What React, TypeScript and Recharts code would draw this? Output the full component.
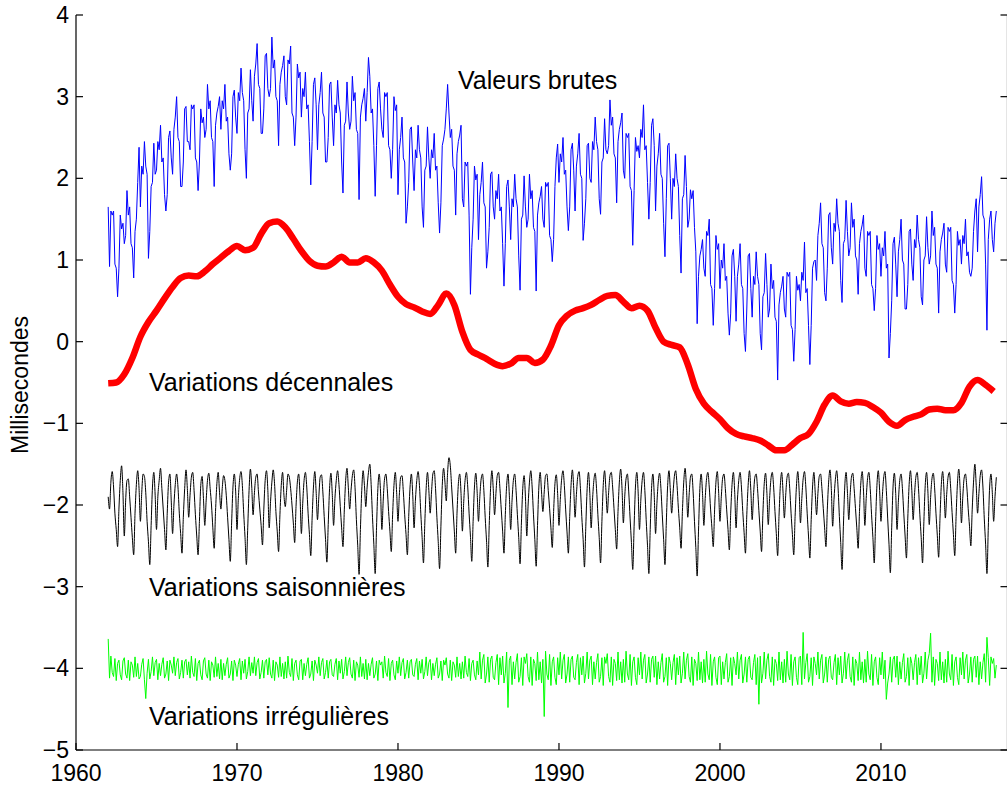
import React from "react";
import { LineChart, Line, XAxis, YAxis } from "recharts";

// time grid: monthly series start in Jan 1962, decadal curve every half year
const START_YEAR = 1962;
const MONTH_STEP = 1 / 12;
const HALF_YEAR_STEP = 0.5;

const xTicks = [1960, 1970, 1980, 1990, 2000, 2010];
const yTicks = [-5, -4, -3, -2, -1, 0, 1, 2, 3, 4];

// Valeurs brutes (monthly, ms)
const rawValues = [
  1.65, 0.92, 1.6, 1.55, 1.6, 0.95, 0.9, 0.55, 0.9, 1.55, 1.38, 1.45,
  1.2, 1.3, 1.85, 1.55, 1.65, 1.2, 1.15, 0.78, 1.35, 1.5, 1.95, 2.38,
  1.65, 2.15, 2.05, 2.45, 2.15, 2.05, 1.02, 1.35, 1.9, 1.95, 2.43, 2.05,
  2.1, 2.45, 2.35, 2.65, 2.2, 2.25, 1.8, 1.6, 1.8, 2.5, 2.58, 2.25,
  2.05, 2.6, 2.75, 3.0, 2.5, 2.45, 1.9, 1.9, 2.2, 2.85, 2.88, 2.45,
  2.45, 2.35, 2.9, 2.85, 2.9, 2.25, 2.2, 1.85, 2.2, 2.85, 2.68, 2.75,
  2.5, 2.6, 3.15, 2.85, 2.95, 2.5, 2.45, 1.9, 2.65, 2.8, 2.88, 3.0,
  2.6, 2.95, 2.85, 3.15, 2.7, 2.75, 2.3, 2.1, 2.3, 3.0, 3.08, 2.75,
  2.55, 3.05, 2.95, 3.35, 3.05, 2.95, 2.35, 2.0, 2.8, 2.85, 3.33, 2.95,
  2.7, 3.25, 3.4, 3.65, 3.15, 3.1, 2.55, 2.55, 2.85, 3.5, 3.53, 3.1,
  3.0, 3.1, 3.73, 3.35, 3.45, 3.0, 2.95, 2.4, 3.15, 3.3, 3.38, 3.5,
  3.0, 2.9, 3.45, 3.4, 3.62, 2.8, 2.75, 2.4, 2.75, 3.4, 3.23, 3.3,
  2.75, 3.1, 3.0, 3.3, 2.85, 2.9, 2.45, 1.92, 2.45, 3.15, 3.23, 2.9,
  2.35, 2.9, 3.05, 3.3, 2.8, 2.75, 2.2, 2.2, 2.5, 3.15, 3.18, 2.75,
  2.4, 2.9, 2.8, 3.2, 2.9, 2.8, 2.2, 1.82, 2.65, 2.7, 3.18, 2.8,
  2.6, 2.7, 3.25, 2.95, 3.05, 2.6, 2.55, 1.74, 2.75, 2.9, 2.98, 3.1,
  2.7, 3.05, 3.48, 3.25, 2.8, 2.85, 2.4, 1.78, 2.4, 3.1, 3.18, 2.85,
  2.6, 2.5, 3.05, 3.0, 3.05, 2.4, 2.35, 2.0, 2.35, 3.0, 2.83, 2.9,
  1.8, 2.35, 2.5, 2.75, 2.25, 2.2, 1.45, 1.65, 1.95, 2.6, 2.63, 2.2,
  1.85, 2.35, 2.25, 2.65, 2.35, 2.25, 1.65, 1.4, 2.1, 2.15, 2.63, 2.25,
  2.0, 2.35, 2.25, 2.55, 2.1, 2.15, 1.7, 1.33, 1.7, 2.4, 2.48, 2.6,
  2.85, 3.15, 2.8, 2.5, 2.6, 2.15, 2.1, 1.55, 2.3, 2.45, 2.53, 2.65,
  1.75, 1.65, 2.2, 2.15, 2.2, 1.55, 0.58, 1.15, 1.5, 2.15, 1.98, 2.05,
  1.25, 1.8, 1.95, 2.2, 1.7, 1.65, 0.9, 1.1, 1.4, 2.05, 2.08, 1.65,
  1.5, 1.85, 1.75, 2.05, 1.6, 1.65, 1.2, 0.68, 1.2, 1.9, 1.98, 1.65,
  1.25, 1.75, 1.65, 2.05, 1.75, 1.65, 1.05, 0.63, 1.5, 1.55, 2.03, 1.65,
  1.4, 1.5, 2.05, 1.75, 1.85, 1.4, 1.35, 0.62, 1.55, 1.7, 1.78, 1.9,
  1.5, 1.4, 1.95, 1.9, 1.95, 1.3, 1.25, 0.98, 1.25, 1.9, 2.25, 2.42,
  1.95, 2.3, 2.2, 2.5, 2.05, 2.1, 1.65, 1.36, 1.65, 2.35, 2.43, 2.1,
  1.6, 2.15, 2.3, 2.55, 2.05, 2.0, 1.24, 1.45, 1.75, 2.4, 2.43, 2.0,
  1.95, 2.45, 2.35, 2.75, 2.45, 2.35, 1.75, 1.56, 2.2, 2.25, 2.73, 2.35,
  2.3, 2.4, 2.96, 2.65, 2.75, 2.3, 2.25, 1.7, 2.45, 2.6, 2.68, 2.8,
  2.1, 2.0, 2.55, 2.5, 2.55, 1.9, 1.85, 1.18, 1.85, 2.5, 2.33, 2.4,
  2.25, 2.6, 2.5, 2.9, 2.35, 2.4, 1.95, 1.5, 1.95, 2.65, 2.73, 2.4,
  1.6, 2.15, 2.3, 2.55, 2.05, 2.0, 1.45, 1.04, 1.75, 2.4, 2.43, 2.0,
  1.5, 2.0, 1.9, 2.3, 2.0, 1.9, 1.3, 0.84, 1.75, 1.8, 2.28, 1.9,
  1.4, 1.5, 1.86, 1.75, 1.85, 1.4, 1.1, 0.22, 0.8, 1.05, 1.13, 1.25,
  0.9, 0.8, 1.35, 1.3, 1.5, 0.7, 0.65, 0.2, 0.65, 1.3, 1.13, 1.2,
  0.65, 1.0, 0.9, 1.2, 0.75, 0.8, 0.35, 0.08, 0.35, 1.05, 1.13, 0.8,
  0.25, 0.8, 0.95, 1.2, 0.7, 0.65, 0.1, -0.12, 0.4, 1.05, 1.08, 0.65,
  0.3, 0.8, 0.7, 1.1, 0.8, 0.7, 0.1, -0.1, 0.55, 0.6, 1.08, 0.7,
  0.3, 0.4, 0.95, 0.65, 0.75, 0.3, 0.25, -0.47, 0.45, 0.6, 0.68, 0.8,
  0.4, 0.3, 0.85, 0.8, 0.85, 0.2, 0.15, -0.24, 0.15, 0.8, 0.63, 0.7,
  0.5, 0.85, 0.75, 1.22, 0.6, 0.65, 0.2, -0.28, 0.2, 0.9, 0.98, 1.0,
  0.75, 1.3, 1.45, 1.7, 1.2, 1.15, 0.6, 0.5, 0.9, 1.55, 1.58, 1.15,
  0.95, 1.45, 1.35, 1.75, 1.45, 1.35, 0.75, 0.48, 1.2, 1.25, 1.73, 1.35,
  1.05, 1.15, 1.7, 1.4, 1.5, 1.05, 1.0, 0.58, 1.2, 1.35, 1.43, 1.55,
  0.9, 0.8, 1.35, 1.3, 1.35, 0.7, 0.65, 0.38, 0.65, 1.3, 1.13, 1.2,
  0.8, 1.15, 1.05, 1.35, 0.9, 0.95, -0.2, 0.1, 0.5, 1.2, 1.28, 0.95,
  0.55, 1.1, 1.25, 1.5, 1.0, 0.95, 0.4, 0.4, 0.7, 1.35, 1.38, 0.95,
  0.75, 1.25, 1.15, 1.55, 1.25, 1.15, 0.55, 0.45, 1.0, 1.05, 1.53, 1.15,
  0.95, 1.05, 1.6, 1.3, 1.4, 0.95, 0.9, 0.35, 1.1, 1.25, 1.33, 1.45,
  0.95, 0.85, 1.4, 1.35, 1.4, 0.75, 0.7, 0.35, 0.7, 1.35, 1.18, 1.25,
  0.95, 1.3, 1.2, 1.5, 1.05, 1.1, 0.85, 0.8, 0.9, 1.35, 1.6, 1.75,
  1.1, 1.65, 1.8, 2.02, 1.55, 1.5, 0.95, 0.14, 1.25, 1.5, 1.6, 1.25,
  1.1, 1.45, 1.6,
];

// Variations décennales (every half year, ms)
const decadalValues = [
  -0.51, -0.5, -0.4, -0.2, 0.06, 0.24, 0.38, 0.53, 0.67, 0.78,
  0.81, 0.8, 0.86, 0.95, 1.03, 1.11, 1.17, 1.12, 1.15, 1.32,
  1.45, 1.47, 1.4, 1.26, 1.11, 0.99, 0.93, 0.92, 0.97, 1.04,
  0.97, 0.97, 1.02, 0.97, 0.87, 0.7, 0.55, 0.46, 0.42, 0.37,
  0.34, 0.45, 0.59, 0.45, 0.12, -0.1, -0.16, -0.21, -0.27, -0.3,
  -0.27, -0.2, -0.2, -0.26, -0.22, -0.05, 0.2, 0.32, 0.38, 0.41,
  0.45, 0.51, 0.56, 0.57, 0.49, 0.41, 0.44, 0.38, 0.17, 0.0,
  -0.04, -0.07, -0.28, -0.58, -0.76, -0.86, -0.95, -1.06, -1.13, -1.16,
  -1.18, -1.21, -1.27, -1.33, -1.33, -1.26, -1.18, -1.13, -0.98, -0.77,
  -0.66, -0.73, -0.76, -0.74, -0.75, -0.8, -0.87, -0.98, -1.03, -0.96,
  -0.92, -0.89, -0.83, -0.82, -0.84, -0.84, -0.75, -0.55, -0.47, -0.53,
  -0.61,
];

// Variations saisonnières (monthly, shifted to -2 ms)
const seasonalValues = [
  -1.9, -2.05, -1.72, -1.59, -1.78, -2.1, -2.3, -2.51, -2.05, -1.7, -1.52, -1.85,
  -2.38, -1.95, -1.7, -1.68, -1.9, -2.15, -2.4, -2.61, -2.1, -1.75, -1.58, -1.8,
  -2.2, -1.85, -1.62, -1.65, -1.85, -2.2, -2.45, -2.73, -2.25, -1.78, -1.6, -1.88,
  -2.3, -1.9, -1.7, -1.55, -1.8, -2.05, -2.3, -2.55, -2.1, -1.72, -1.62, -1.95,
  -2.35, -2.0, -1.75, -1.62, -1.78, -2.1, -2.35, -2.59, -2.15, -1.8, -1.57, -1.8,
  -2.15, -1.88, -1.66, -1.6, -1.82, -2.12, -2.38, -2.61, -2.2, -1.76, -1.65, -1.92,
  -2.25, -1.95, -1.7, -1.61, -1.8, -2.0, -2.28, -2.53, -2.08, -1.74, -1.6, -1.85,
  -2.05, -1.8, -1.64, -1.7, -1.88, -2.15, -2.42, -2.69, -2.22, -1.78, -1.62, -1.83,
  -2.3, -1.92, -1.68, -1.59, -1.76, -2.1, -2.4, -2.73, -2.28, -1.82, -1.56, -1.78,
  -2.12, -1.85, -1.66, -1.62, -1.84, -2.05, -2.25, -2.49, -2.05, -1.7, -1.58, -1.82,
  -2.28, -1.96, -1.72, -1.57, -1.74, -2.08, -2.32, -2.57, -2.12, -1.76, -1.6, -1.88,
  -2.02, -1.82, -1.62, -1.66, -1.8, -2.0, -2.22, -2.46, -2.02, -1.72, -1.62, -1.9,
  -2.35, -1.98, -1.7, -1.6, -1.78, -2.1, -2.36, -2.62, -2.16, -1.78, -1.59, -1.84,
  -2.18, -1.9, -1.66, -1.63, -1.84, -2.14, -2.42, -2.7, -2.24, -1.8, -1.61, -1.86,
  -2.25, -1.92, -1.7, -1.58, -1.75, -2.02, -2.28, -2.51, -2.06, -1.7, -1.55, -1.79,
  -2.05, -1.82, -1.64, -1.57, -1.79, -2.18, -2.5, -2.85, -2.3, -1.82, -1.58, -1.76,
  -2.02, -1.78, -1.6, -1.5, -1.75, -2.15, -2.48, -2.84, -2.28, -1.8, -1.62, -1.84,
  -2.3, -1.94, -1.68, -1.62, -1.8, -2.08, -2.32, -2.57, -2.12, -1.76, -1.6, -1.85,
  -2.2, -1.88, -1.66, -1.64, -1.84, -2.12, -2.36, -2.61, -2.14, -1.78, -1.62, -1.88,
  -2.28, -1.94, -1.7, -1.59, -1.76, -2.1, -2.4, -2.71, -2.22, -1.8, -1.6, -1.82,
  -2.1, -1.84, -1.62, -1.58, -1.8, -2.15, -2.45, -2.78, -2.26, -1.76, -1.55, -1.72,
  -1.95, -1.6, -1.42, -1.52, -1.78, -2.05, -2.32, -2.59, -2.1, -1.74, -1.62, -1.86,
  -2.32, -1.96, -1.7, -1.6, -1.78, -2.1, -2.38, -2.69, -2.2, -1.78, -1.61, -1.84,
  -2.2, -1.9, -1.68, -1.62, -1.82, -2.15, -2.44, -2.76, -2.25, -1.8, -1.58, -1.8,
  -2.12, -1.86, -1.64, -1.6, -1.8, -2.06, -2.32, -2.59, -2.12, -1.76, -1.62, -1.88,
  -2.3, -1.95, -1.7, -1.62, -1.82, -2.12, -2.4, -2.72, -2.22, -1.8, -1.64, -1.9,
  -2.38, -2.0, -1.72, -1.58, -1.78, -2.12, -2.42, -2.75, -2.25, -1.78, -1.6, -1.84,
  -2.08, -1.84, -1.64, -1.62, -1.82, -2.04, -2.28, -2.52, -2.08, -1.74, -1.63, -1.86,
  -2.25, -1.93, -1.68, -1.58, -1.76, -2.06, -2.33, -2.59, -2.14, -1.76, -1.57, -1.8,
  -2.15, -1.87, -1.65, -1.59, -1.8, -2.14, -2.42, -2.76, -2.26, -1.8, -1.6, -1.86,
  -2.28, -1.94, -1.7, -1.61, -1.8, -2.12, -2.4, -2.71, -2.2, -1.76, -1.58, -1.82,
  -2.1, -1.85, -1.64, -1.6, -1.78, -2.04, -2.3, -2.54, -2.08, -1.72, -1.56, -1.8,
  -2.22, -1.9, -1.68, -1.62, -1.84, -2.16, -2.46, -2.79, -2.26, -1.78, -1.6, -1.84,
  -2.3, -1.94, -1.7, -1.6, -1.82, -2.18, -2.5, -2.84, -2.3, -1.8, -1.62, -1.88,
  -2.35, -1.98, -1.72, -1.61, -1.8, -2.12, -2.42, -2.73, -2.22, -1.76, -1.58, -1.82,
  -2.1, -1.86, -1.65, -1.58, -1.76, -2.04, -2.28, -2.53, -2.08, -1.72, -1.55, -1.78,
  -2.15, -1.88, -1.66, -1.62, -1.84, -2.2, -2.52, -2.87, -2.32, -1.8, -1.62, -1.86,
  -2.25, -1.92, -1.68, -1.6, -1.78, -2.05, -2.28, -2.51, -2.06, -1.72, -1.59, -1.84,
  -2.2, -1.9, -1.67, -1.62, -1.8, -2.06, -2.3, -2.55, -2.1, -1.75, -1.6, -1.85,
  -2.28, -1.94, -1.7, -1.6, -1.78, -2.08, -2.34, -2.59, -2.12, -1.76, -1.58, -1.82,
  -2.18, -1.88, -1.66, -1.62, -1.8, -2.07, -2.32, -2.57, -2.1, -1.74, -1.61, -1.86,
  -2.24, -1.92, -1.68, -1.6, -1.78, -2.08, -2.35, -2.62, -2.14, -1.76, -1.6, -1.84,
  -2.16, -1.88, -1.66, -1.61, -1.8, -2.1, -2.36, -2.61, -2.14, -1.77, -1.59, -1.82,
  -2.22, -1.92, -1.68, -1.59, -1.78, -2.1, -2.38, -2.65, -2.18, -1.78, -1.6, -1.85,
  -2.12, -1.86, -1.65, -1.62, -1.8, -2.04, -2.28, -2.51, -2.06, -1.72, -1.57, -1.8,
  -2.26, -1.93, -1.69, -1.58, -1.78, -2.14, -2.46, -2.79, -2.26, -1.78, -1.6, -1.84,
  -2.18, -1.88, -1.66, -1.61, -1.8, -2.04, -2.28, -2.53, -2.08, -1.73, -1.59, -1.83,
  -2.25, -1.92, -1.68, -1.6, -1.8, -2.12, -2.4, -2.71, -2.2, -1.76, -1.58, -1.82,
  -2.2, -1.9, -1.67, -1.59, -1.82, -2.16, -2.48, -2.83, -2.28, -1.78, -1.61, -1.86,
  -2.3, -1.95, -1.7, -1.62, -1.8, -2.1, -2.38, -2.65, -2.16, -1.75, -1.58, -1.82,
  -2.18, -1.88, -1.66, -1.6, -1.8, -2.12, -2.4, -2.71, -2.2, -1.76, -1.6, -1.84,
  -2.24, -1.91, -1.68, -1.61, -1.79, -2.1, -2.37, -2.64, -2.16, -1.75, -1.59, -1.83,
  -2.16, -1.87, -1.66, -1.6, -1.8, -2.09, -2.36, -2.62, -2.14, -1.74, -1.56, -1.8,
  -2.22, -1.9, -1.67, -1.62, -1.78, -2.04, -2.26, -2.5, -2.06, -1.72, -1.5, -1.76,
  -2.1, -1.86, -1.64, -1.57, -1.78, -2.16, -2.48, -2.84, -2.28, -1.78, -1.62, -1.85,
  -2.2, -1.9, -1.66,
];

// Variations irrégulières (monthly, shifted to -4 ms)
const irregularValues = [
  -3.64, -4.12, -3.85, -4.05, -4.1, -3.88, -4.15, -3.94, -3.9, -4.08, -4.14, -3.91,
  -3.87, -4.07, -4.12, -3.9, -4.15, -3.92, -3.96, -4.11, -3.86, -4.1, -3.94, -4.13,
  -4.1, -3.95, -3.88, -4.14, -4.37, -4.06, -3.89, -4.13, -4.04, -3.86, -4.09, -3.93,
  -3.89, -4.14, -3.94, -4.09, -3.95, -3.87, -4.12, -4.07, -3.91, -4.15, -3.9, -3.96,
  -4.06, -3.86, -4.09, -3.93, -3.88, -4.13, -4.05, -3.9, -4.12, -3.92, -3.89, -4.08,
  -3.92, -4.12, -3.85, -4.05, -4.1, -3.88, -4.15, -3.94, -3.9, -4.08, -4.14, -3.91,
  -3.87, -4.07, -4.12, -3.9, -4.15, -3.92, -3.96, -4.11, -3.86, -4.1, -3.94, -4.13,
  -3.89, -4.14, -3.94, -4.09, -3.95, -3.87, -4.12, -4.07, -3.91, -4.15, -3.9, -3.96,
  -4.1, -3.95, -3.88, -4.14, -3.91, -4.06, -3.89, -4.13, -4.04, -3.86, -4.09, -3.93,
  -4.06, -3.86, -4.09, -3.93, -3.88, -4.13, -4.05, -3.9, -4.12, -3.92, -3.89, -4.08,
  -3.87, -4.07, -4.12, -3.9, -4.15, -3.92, -3.96, -4.11, -3.86, -4.1, -3.94, -4.13,
  -3.92, -4.12, -3.85, -4.05, -4.1, -3.88, -4.15, -3.94, -3.9, -4.08, -4.14, -3.91,
  -3.89, -4.14, -3.94, -4.09, -3.95, -3.87, -4.12, -4.07, -3.91, -4.15, -3.9, -3.96,
  -4.06, -3.86, -4.09, -3.93, -3.88, -4.13, -4.05, -3.9, -4.12, -3.92, -3.89, -4.08,
  -4.1, -3.95, -3.88, -4.14, -3.91, -4.06, -3.89, -4.13, -4.04, -3.86, -4.09, -3.93,
  -3.87, -4.07, -4.12, -3.9, -4.15, -3.92, -3.96, -4.11, -3.86, -4.1, -3.94, -4.13,
  -3.89, -4.14, -3.94, -4.09, -3.95, -3.87, -4.12, -4.07, -3.91, -4.15, -3.9, -3.96,
  -3.92, -4.12, -3.85, -4.05, -4.1, -3.88, -4.15, -3.94, -3.9, -4.08, -4.14, -3.91,
  -4.06, -3.86, -4.09, -3.93, -3.88, -4.13, -4.05, -3.9, -4.12, -3.92, -3.89, -4.08,
  -4.1, -3.95, -3.88, -4.14, -3.91, -4.06, -3.89, -4.13, -4.04, -3.86, -4.09, -3.93,
  -3.89, -4.14, -3.94, -4.09, -3.95, -3.87, -4.12, -4.07, -3.91, -4.15, -3.9, -3.96,
  -3.87, -4.07, -4.12, -3.9, -4.15, -3.92, -3.96, -4.11, -3.86, -4.1, -3.94, -4.13,
  -3.92, -4.12, -3.85, -4.05, -4.1, -3.88, -4.15, -3.94, -3.9, -4.08, -4.14, -3.91,
  -4.08, -3.8, -4.13, -3.9, -3.83, -4.18, -4.07, -3.86, -4.17, -3.89, -3.85, -4.11,
  -4.14, -3.93, -3.83, -4.2, -3.87, -4.08, -3.85, -4.18, -4.06, -3.8, -4.48, -3.9,
  -3.85, -4.2, -3.92, -4.13, -3.93, -3.82, -4.17, -4.1, -3.87, -4.21, -3.86, -3.94,
  -3.82, -4.1, -4.17, -3.86, -4.21, -3.89, -3.94, -4.15, -3.8, -4.14, -3.92, -4.18,
  -3.89, -4.59, -3.79, -4.07, -4.14, -3.83, -4.21, -3.92, -3.86, -4.11, -4.2, -3.87,
  -4.08, -3.8, -4.13, -3.9, -3.83, -4.18, -4.07, -3.86, -4.17, -3.89, -3.85, -4.11,
  -4.14, -3.93, -3.83, -4.2, -3.87, -4.08, -3.85, -4.18, -4.06, -3.8, -4.13, -3.9,
  -3.85, -4.2, -3.92, -4.13, -3.93, -3.82, -4.17, -4.1, -3.87, -4.21, -3.86, -3.94,
  -3.82, -4.1, -4.17, -3.86, -4.21, -3.89, -3.94, -4.15, -3.8, -4.14, -3.92, -4.18,
  -3.89, -4.17, -3.79, -4.07, -4.14, -3.83, -4.21, -3.92, -3.86, -4.11, -4.2, -3.87,
  -4.08, -3.8, -4.13, -3.9, -3.83, -4.18, -4.07, -3.86, -4.17, -3.89, -3.85, -4.11,
  -3.85, -4.2, -3.92, -4.13, -3.93, -3.82, -4.17, -4.1, -3.87, -4.21, -3.86, -3.94,
  -4.14, -3.93, -3.83, -4.2, -3.87, -4.08, -3.85, -4.18, -4.06, -3.8, -4.13, -3.9,
  -3.82, -4.1, -4.17, -3.86, -4.21, -3.89, -3.94, -4.15, -3.8, -4.14, -3.92, -4.18,
  -3.89, -4.17, -3.79, -4.07, -4.14, -3.83, -4.21, -3.92, -3.86, -4.11, -4.2, -3.87,
  -3.85, -4.2, -3.92, -4.13, -3.93, -3.82, -4.17, -4.1, -3.87, -4.21, -3.86, -3.94,
  -4.08, -3.8, -4.13, -3.9, -3.83, -4.18, -4.07, -3.86, -4.17, -3.89, -3.85, -4.11,
  -4.14, -3.93, -3.83, -4.2, -3.87, -4.44, -3.85, -4.18, -4.06, -3.8, -4.13, -3.9,
  -3.82, -4.1, -4.17, -3.86, -4.21, -3.89, -3.94, -4.15, -3.8, -4.14, -3.92, -4.18,
  -3.89, -4.17, -3.79, -4.07, -4.14, -3.83, -4.21, -3.92, -3.86, -4.11, -4.2, -3.87,
  -3.85, -4.2, -3.56, -4.13, -3.93, -3.82, -4.17, -4.1, -3.87, -4.21, -3.86, -3.94,
  -4.08, -3.8, -4.13, -3.9, -3.83, -4.18, -4.07, -3.86, -4.17, -3.89, -3.85, -4.11,
  -4.14, -3.93, -3.83, -4.2, -3.87, -4.08, -3.85, -4.18, -4.06, -3.8, -4.13, -3.9,
  -3.82, -4.1, -4.17, -3.86, -4.21, -3.89, -3.94, -4.15, -3.8, -4.14, -3.92, -4.18,
  -3.89, -4.17, -3.79, -4.07, -4.14, -3.83, -4.21, -3.92, -3.86, -4.11, -4.2, -3.87,
  -4.08, -3.8, -4.13, -3.9, -4.38, -4.18, -4.07, -3.86, -4.17, -3.89, -3.85, -4.11,
  -3.85, -4.2, -3.92, -4.13, -3.93, -3.82, -4.17, -4.1, -3.87, -4.21, -3.86, -3.94,
  -4.14, -3.93, -3.83, -4.2, -3.87, -4.08, -3.85, -4.18, -4.06, -3.8, -4.13, -3.9,
  -3.82, -3.57, -4.17, -3.86, -4.21, -3.89, -3.94, -4.15, -3.8, -4.14, -3.92, -4.18,
  -3.89, -4.17, -3.79, -4.07, -4.14, -3.83, -4.21, -3.92, -3.86, -4.11, -4.2, -3.87,
  -4.08, -3.8, -4.13, -3.9, -3.83, -4.18, -4.07, -3.86, -4.17, -3.89, -3.85, -4.11,
  -3.85, -4.2, -3.92, -4.13, -3.93, -3.82, -4.17, -3.62, -3.87, -4.21, -3.86, -3.94,
  -3.88, -4.12, -3.96,
];

const fontFamily = "'Liberation Sans', Arial, Helvetica, sans-serif";
const tickStyle = { fill: "#000", fontSize: 23, fontFamily };

const toRows = (values: number[], step: number) =>
  values.map((v, i) => ({ t: START_YEAR + i * step, v }));

const rawData = toRows(rawValues, MONTH_STEP);
const decadalData = toRows(decadalValues, HALF_YEAR_STEP);
const seasonalData = toRows(seasonalValues, MONTH_STEP);
const irregularData = toRows(irregularValues, MONTH_STEP);

const fmtTick = (v: number) => (v < 0 ? `\u2212${-v}` : String(v));
const noLabel = () => "";

const X_DOMAIN: [number, number] = [1960, 2017.86];
const Y_DOMAIN: [number, number] = [-5, 4];

export default function App() {
  return (
    <div
      style={{
        position: "absolute",
        left: 0,
        top: 0,
        width: 1007,
        height: 785,
        overflow: "hidden",
        background: "#fff",
      }}
    >
      <LineChart
        width={1012}
        height={785}
        margin={{ top: 15, right: 0, bottom: 0, left: 0 }}
      >
        <XAxis
          xAxisId="b"
          type="number"
          dataKey="t"
          domain={X_DOMAIN}
          ticks={xTicks}
          allowDataOverflow
          height={35}
          stroke="#000"
          strokeWidth={1.2}
          tickSize={-7}
          tickMargin={22}
          tick={tickStyle}
          tickFormatter={fmtTick}
        />
        <XAxis
          xAxisId="t"
          orientation="top"
          type="number"
          dataKey="t"
          domain={X_DOMAIN}
          ticks={xTicks}
          allowDataOverflow
          height={0}
          stroke="#000"
          strokeWidth={1.2}
          tickSize={-7}
          tickFormatter={noLabel}
        />
        <YAxis
          yAxisId="l"
          type="number"
          domain={Y_DOMAIN}
          ticks={yTicks}
          allowDataOverflow
          width={76}
          stroke="#000"
          strokeWidth={1.2}
          tickSize={-7}
          tickMargin={14}
          tick={tickStyle}
          tickFormatter={fmtTick}
        />
        <YAxis
          yAxisId="r"
          orientation="right"
          type="number"
          domain={Y_DOMAIN}
          ticks={yTicks}
          allowDataOverflow
          width={4.5}
          stroke="#000"
          strokeWidth={1.2}
          tickSize={-7}
          tickFormatter={noLabel}
        />
        <Line
          xAxisId="b"
          yAxisId="l"
          data={rawData}
          dataKey="v"
          type="linear"
          stroke="#0000ff"
          strokeWidth={1}
          dot={false}
          activeDot={false}
          isAnimationActive={false}
        />
        <Line
          xAxisId="b"
          yAxisId="l"
          data={decadalData}
          dataKey="v"
          type="monotone"
          stroke="#ff0000"
          strokeWidth={6.5}
          dot={false}
          activeDot={false}
          isAnimationActive={false}
        />
        <Line
          xAxisId="b"
          yAxisId="l"
          data={seasonalData}
          dataKey="v"
          type="monotone"
          stroke="#000000"
          strokeWidth={1}
          dot={false}
          activeDot={false}
          isAnimationActive={false}
        />
        <Line
          xAxisId="b"
          yAxisId="l"
          data={irregularData}
          dataKey="v"
          type="linear"
          stroke="#00ff00"
          strokeWidth={1}
          dot={false}
          activeDot={false}
          isAnimationActive={false}
        />
      </LineChart>

      <svg
        width={1007}
        height={785}
        style={{ position: "absolute", left: 0, top: 0, pointerEvents: "none" }}
        fontFamily={fontFamily}
      >
        <text x={28} y={385} fontSize={23} textAnchor="middle" transform="rotate(-90 28 385)">
          Millisecondes
        </text>
        <text x={458} y={89} fontSize={25}>Valeurs brutes</text>
        <text x={149} y={391} fontSize={25}>Variations décennales</text>
        <text x={149} y={596} fontSize={25}>Variations saisonnières</text>
        <text x={149} y={725} fontSize={25}>Variations irrégulières</text>
      </svg>
    </div>
  );
}
